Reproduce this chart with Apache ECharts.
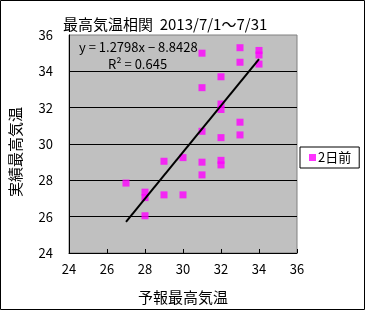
<!DOCTYPE html>
<html>
<head>
<meta charset="utf-8">
<script src="https://cdn.jsdelivr.net/npm/echarts@6/dist/echarts.min.js"></script>
<style>
html,body{margin:0;padding:0;background:#fff;}
#chart{width:365px;height:310px;}
</style>
</head>
<body>
<div id="chart"></div>
<script>
// ---- data ----
const titleText = '最高気温相関  2013/7/1～7/31';
const seriesName = '2日前';
const xAxisName = '予報最高気温';
const yAxisName = '実績最高気温';
const forecastX = [31,31,31,31,31,33,33,33,33,34,34,34,32,32,32,32,32,32,30,30,29,29,27,28,28,28];
const actualY   = [35.0,33.1,30.7,29.0,28.3,35.3,34.5,31.2,30.5,35.15,34.9,34.4,33.7,32.2,31.9,30.35,29.1,28.85,29.25,27.2,29.05,27.2,27.85,27.35,27.05,26.05];
const trendX = [27, 34];
const trendY = [25.71, 34.67];
const equationText = 'y = 1.2798x − 8.8428';
const r2Text = 'R² = 0.645';
const axisMin = 24, axisMax = 36, axisStep = 2;

const FONT = '"Noto Sans CJK JP", "Liberation Sans", sans-serif';
const chart = echarts.init(document.getElementById('chart'));
const scatterData = forecastX.map((x, i) => [x, actualY[i]]);
const trendData = trendX.map((x, i) => [x, trendY[i]]);

chart.setOption({
  animation: false,
  backgroundColor: '#ffffff',
  title: {
    text: titleText,
    left: 58, top: 12,
    textStyle: {fontFamily: FONT, fontSize: 15, fontWeight: 'normal', color: '#000'}
  },
  grid: {
    left: 69, top: 35, right: 68, bottom: 55,
    show: true, backgroundColor: '#C0C0C0', borderColor: '#808080', borderWidth: 1
  },
  legend: {
    left: 300, top: 147,
    data: [seriesName],
    backgroundColor: '#ffffff',
    borderColor: '#000', borderWidth: 1,
    padding: [4, 8, 4, 9],
    itemWidth: 7, itemHeight: 7, itemGap: 2,
    icon: 'rect',
    textStyle: {fontFamily: FONT, fontSize: 13, color: '#000', padding: [0, 0, 0, -3]}
  },
  xAxis: {
    type: 'value', min: axisMin, max: axisMax, interval: axisStep,
    name: xAxisName, nameLocation: 'middle', nameGap: 37,
    nameTextStyle: {fontFamily: FONT, fontSize: 15, color: '#000'},
    axisLine: {show: true, onZero: false, lineStyle: {color: '#000', width: 1}},
    axisTick: {show: true, inside: true, length: 4, lineStyle: {color: '#000'}},
    axisLabel: {fontFamily: FONT, fontSize: 13, color: '#000', margin: 10},
    splitLine: {show: false}
  },
  yAxis: {
    type: 'value', min: axisMin, max: axisMax, interval: axisStep,
    axisLine: {show: true, onZero: false, lineStyle: {color: '#000', width: 1}},
    axisTick: {show: false},
    axisLabel: {fontFamily: FONT, fontSize: 13, color: '#000', margin: 16},
    splitLine: {show: true, showMaxLine: false, lineStyle: {color: '#000', width: 1}}
  },
  graphic: [
    {type: 'rect', shape: {x: 0.5, y: 0.5, width: 364, height: 309},
     style: {fill: 'none', stroke: '#000', lineWidth: 1}, silent: true},
    {type: 'text', x: 15, y: 152, rotation: Math.PI / 2,
     style: {text: yAxisName, fontFamily: FONT, fontSize: 15, fill: '#000', align: 'center', verticalAlign: 'middle'}},
    {type: 'text', x: 79, y: 47,
     style: {text: equationText, fontFamily: FONT, fontSize: 13, fill: '#000', align: 'left', verticalAlign: 'middle'}},
    {type: 'text', x: 108, y: 64,
     style: {text: r2Text, fontFamily: FONT, fontSize: 13, fill: '#000', align: 'left', verticalAlign: 'middle'}}
  ],
  series: [
    {
      name: seriesName, type: 'scatter', data: scatterData,
      symbol: 'rect', symbolSize: 7,
      itemStyle: {color: '#FF00FF'}, z: 3
    },
    {
      name: 'trend', type: 'line', data: trendData,
      showSymbol: false, symbol: 'none',
      lineStyle: {color: '#000', width: 2}, z: 4
    }
  ]
});
</script>
</body>
</html>
